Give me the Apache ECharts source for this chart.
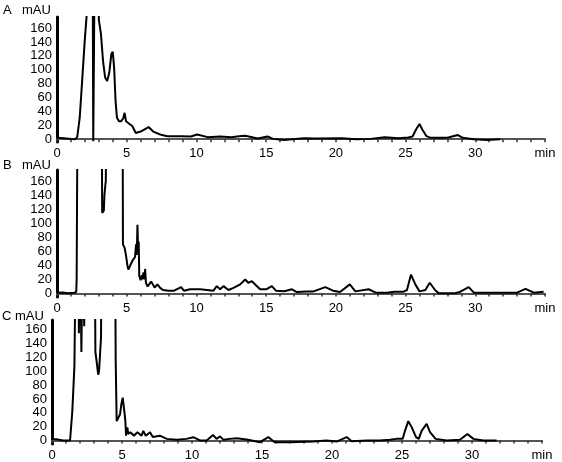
<!DOCTYPE html>
<html>
<head>
<meta charset="utf-8">
<script src="https://cdn.jsdelivr.net/npm/echarts@6/dist/echarts.min.js"></script>
<style>
  html, body { margin: 0; padding: 0; background: #fff; }
  #chart { width: 562px; height: 462px; }
</style>
</head>
<body>
<div id="chart"></div>
<script>
// retention time (min) and absorbance (mAU); 300 = off scale (clipped)
const timeA = [0, 0.5, 1.0, 1.3, 1.45, 1.63, 1.82, 1.99, 2.17, 2.3, 2.55, 2.6, 2.66, 2.72, 2.95, 3.0, 3.15, 3.3, 3.45, 3.6,
  3.75, 3.9, 4.0, 4.1, 4.2, 4.3, 4.45, 4.6, 4.75, 4.85, 4.95, 5.2, 5.4, 5.65, 6.0, 6.57, 6.9, 7.4, 7.9, 8.9,
  9.6, 10.05, 10.8, 11.7, 12.5, 13.2, 13.5, 14.4, 15.1, 15.5, 16.3, 17.7, 18.5, 20.4, 21.5, 22.5, 23.5, 24.5, 25.2, 25.5,
  25.75, 26.0, 26.2, 26.5, 26.8, 28.0, 28.75, 29.1, 29.9, 30.8, 31.8];
const signalA = [2, 1.5, 0.5, 0, 3, 31, 89, 142, 190, 300, 300, -3, -3, 300, 300, 172, 152, 113, 89, 84,
  96, 123, 126, 102, 55, 31, 26, 26, 30, 38, 26, 22, 19, 9, 11, 17.5, 11, 6.8, 4.4, 4.4,
  4, 6.8, 3, 4, 3, 4.5, 5, 1, 4, 0.5, -1, 1.5, 1, 1.5, 0, 0.5, 3, 1.5, 2.5, 4,
  14, 22, 14, 4.4, 2, 2, 6, 2, 0, -1, 0];

const timeB = [0, 0.4, 0.8, 1.2, 1.38, 1.41, 1.45, 1.48, 3.2, 3.24, 3.3, 3.36, 3.4, 3.47, 3.5, 3.55, 4.7, 4.73, 4.85, 4.95,
  5.05, 5.12, 5.2, 5.3, 5.45, 5.6, 5.67, 5.72, 5.77, 5.82, 5.86, 5.9, 6.0, 6.08, 6.12, 6.2, 6.28, 6.32, 6.38, 6.5,
  6.6, 6.75, 6.9, 7.0, 7.2, 7.4, 7.6, 8.0, 8.4, 8.9, 9.1, 9.55, 10.27, 11.22, 11.46, 11.7, 11.94, 12.3, 12.66, 13.14,
  13.5, 13.73, 13.97, 14.57, 15.0, 15.41, 15.7, 16.3, 16.85, 17.2, 17.9, 18.4, 19.24, 19.8, 20.3, 21.0, 21.4, 22.35, 22.9, 23.67,
  24.2, 24.86, 25.1, 25.39, 25.7, 26.0, 26.42, 26.73, 27.14, 27.4, 28.5, 28.93, 29.53, 29.9, 31.56, 33.0, 33.6, 34.2, 34.9];
const signalB = [1, 1.5, 0.5, 1, 2, 20, 22, 300, 300, 115, 114, 118, 140, 155, 160, 300, 300, 70, 65, 54,
  40, 34, 33, 42, 48, 52, 70, 55, 98, 60, 74, 25, 19, 26, 20, 30, 20, 35, 15, 10,
  10, 17, 12, 8.5, 13, 8, 5, 4, 4, 9, 4, 6, 6, 4, 10.5, 6, 10.5, 5, 8, 13,
  20, 15, 17.5, 6, 6, 10.5, 4, 3.3, 6, 2, 3, 3, 9, 4, 2, 13, 3, 6, 1, 1.2,
  2.6, 2.6, 5, 27, 13, 3, 5, 15.3, 4.3, 0.2, 0.2, 2.6, 9.1, 1.2, 1.2, 1.2, 6.7, 1.2, 2.6];

const timeC = [0, 0.1, 0.3, 0.8, 1.29, 1.45, 1.52, 1.6, 1.64, 1.71, 1.88, 1.92, 1.97, 2.0, 2.08, 2.1, 2.16, 2.19, 2.27, 2.3,
  2.34, 3.05, 3.1, 3.19, 3.3, 3.36, 3.43, 3.5, 3.55, 4.5, 4.55, 4.62, 4.74, 4.86, 4.95, 5.05, 5.12, 5.19, 5.24, 5.29,
  5.38, 5.45, 5.6, 5.85, 6.1, 6.4, 6.52, 6.7, 7.0, 7.2, 7.7, 8.2, 8.9, 9.6, 10.1, 10.6, 11.05, 11.5, 11.75, 12.0,
  12.25, 12.7, 13.2, 14.0, 14.86, 15.45, 15.9, 17.0, 18.67, 19.6, 20.33, 21.05, 21.4, 22.5, 23.4, 24.14, 24.6, 25.05, 25.21, 25.45,
  25.7, 26.0, 26.2, 26.4, 26.76, 27.0, 27.4, 28.19, 29.14, 29.67, 30.1, 30.81, 31.76];
const signalC = [5, 2, 2, 0, 0, 42, 43, 107, 108, 300, 300, 155, 155, 300, 300, 128, 128, 300, 300, 165,
  300, 300, 128, 114, 95, 100, 124, 148, 300, 300, 114, 28, 26, 38, 52, 62, 60, 38, 28, 7,
  19, 9.5, 12, 7, 12, 7, 14, 7, 12, 5, 7, 2.4, 1.2, 2.4, 4.8, 0, 0, 8, 2.4, 6,
  1, 2.4, 3.4, 1, -2.4, 5, -2.4, -2.4, -1.5, 0, -1.5, 5, -1, 0, 0, 1.2, 2.4, 2.4, 14, 28,
  19, 4.8, 2.4, 14, 24, 12, 2.4, 0, 1.2, 9.5, 2.4, 0, 0];

const panelNames = ['A', 'B', 'C'];
const yTicks = [0, 20, 40, 60, 80, 100, 120, 140, 160];
const xTicks = ['0', '5', '10', '15', '20', '25', '30', 'min'];

const font = 'Liberation Sans, Arial, sans-serif';
const chart = echarts.init(document.getElementById('chart'), null, { renderer: 'canvas' });

const grids = [
  { left: 57, right: 17, top: 17, height: 125 },
  { left: 57, right: 17, top: 170, height: 127 },
  { left: 52, right: 20, top: 320, height: 125 }
];
const yRanges = [[-4, 176], [-5, 176], [-5, 174]];
const series = [[timeA, signalA], [timeB, signalB], [timeC, signalC]];

const option = {
  animation: false,
  backgroundColor: '#fff',
  grid: grids,
  xAxis: grids.map((g, i) => ({
    type: 'value',
    gridIndex: i,
    min: 0,
    max: 35,
    interval: 5,
    axisLine: { lineStyle: { color: '#555', width: 2 } },
    axisTick: { show: true, length: 3, lineStyle: { color: '#333', width: 1.5 } },
    minorTick: { show: true, splitNumber: 5, length: 3, lineStyle: { color: '#333', width: 1.5 } },
    splitLine: { show: false },
    axisLabel: {
      margin: 5,
      color: '#000',
      fontSize: 13,
      fontFamily: font,
      formatter: v => xTicks[v / 5]
    }
  })),
  yAxis: grids.map((g, i) => ({
    type: 'value',
    gridIndex: i,
    min: yRanges[i][0],
    max: yRanges[i][1],
    axisLine: { show: true, lineStyle: { color: '#000', width: 3 } },
    axisTick: { show: false },
    splitLine: { show: false },
    axisLabel: {
      customValues: yTicks,
      margin: 5,
      color: '#000',
      fontSize: 13,
      fontFamily: font
    }
  })),
  series: series.map(([t, v], i) => ({
    type: 'line',
    xAxisIndex: i,
    yAxisIndex: i,
    data: t.map((x, k) => [x, v[k]]),
    showSymbol: false,
    clip: true,
    lineStyle: { color: '#000', width: 2 }
  })),
  graphic: [
    { type: 'text', left: 3, top: 4, style: { text: panelNames[0], font: '13px ' + font, fill: '#000' } },
    { type: 'text', left: 22, top: 4, style: { text: 'mAU', font: '13px ' + font, fill: '#000' } },
    { type: 'text', left: 3, top: 159, style: { text: panelNames[1], font: '13px ' + font, fill: '#000' } },
    { type: 'text', left: 22, top: 159, style: { text: 'mAU', font: '13px ' + font, fill: '#000' } },
    { type: 'text', left: 2, top: 310, style: { text: panelNames[2], font: '13px ' + font, fill: '#000' } },
    { type: 'text', left: 15, top: 310, style: { text: 'mAU', font: '13px ' + font, fill: '#000' } }
  ]
};
chart.setOption(option);
</script>
</body>
</html>
